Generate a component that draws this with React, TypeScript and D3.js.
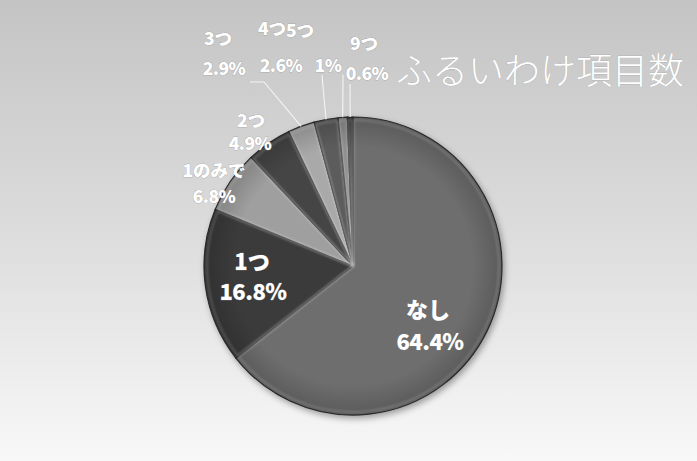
import React from "react";
import * as d3 from "d3";

const categories = ["なし", "1つ", "1のみで", "2つ", "3つ", "4つ", "5つ", "9つ"];
const values = [64.4, 16.8, 6.8, 4.9, 2.9, 2.6, 1, 0.6];
const percentLabels = ["64.4%", "16.8%", "6.8%", "4.9%", "2.9%", "2.6%", "1%", "0.6%"];
const sliceColors = ["#6e6e6e", "#3b3b3b", "#9f9f9f", "#454545", "#a9a9a9", "#5c5c5c", "#8d8d8d", "#3a3a3a"];
const title = "ふるいわけ項目数";

// layout: label anchor positions (name line, percent line), font size, leader line start
const labelLayout = [
  { nx: 428, ny: 318, px: 430, py: 350, fs: 22, leader: null },
  { nx: 252, ny: 270, px: 253, py: 300, fs: 22, leader: null },
  { nx: 214, ny: 177, px: 214, py: 203, fs: 17.5, leader: null },
  { nx: 251, ny: 127, px: 250, py: 150, fs: 17.5, leader: null },
  { nx: 218, ny: 45, px: 224, py: 75, fs: 17.5, leader: [[250, 82], [264, 82]] },
  { nx: 272, ny: 35, px: 281, py: 72, fs: 17.5, leader: [[322, 75]] },
  { nx: 300, ny: 37, px: 328, py: 72, fs: 17.5, leader: [[343, 75]] },
  { nx: 364, ny: 50, px: 367, py: 80, fs: 17.5, leader: [[350, 84]] },
];

const W = 697;
const H = 461;
const cx = 353;
const cy = 266;
const R = 149;

export default function App() {
  const data = categories.map((c, i) => ({ c, v: values[i], i }));
  const pie = d3.pie<any>().value((d) => d.v).sort(null).startAngle(0).endAngle(2 * Math.PI);
  const arcs = pie(data);
  const arc = d3.arc<any>().innerRadius(0).outerRadius(R);
  const innerArc = d3.arc<any>().innerRadius(0).outerRadius(R - 3).padAngle(0.012);

  const labelFont = "'Noto Sans CJK JP', 'Noto Sans', sans-serif";

  return (
    <svg
      width={W}
      height={H}
      viewBox={`0 0 ${W} ${H}`}
      style={{ position: "absolute", left: 0, top: 0 }}
    >
      <defs>
        <linearGradient id="bg" x1="0" y1="0" x2="0" y2="1">
          <stop offset="0" stopColor="#c4c4c4" />
          <stop offset="0.5" stopColor="#dcdcdc" />
          <stop offset="1" stopColor="#f8f8f8" />
        </linearGradient>
        <filter id="shadow" x="-20%" y="-20%" width="140%" height="140%">
          <feDropShadow dx="2" dy="3" stdDeviation="3" floodColor="#000" floodOpacity="0.35" />
        </filter>
        <filter id="soft" x="-10%" y="-10%" width="120%" height="120%">
          <feGaussianBlur stdDeviation="1.2" />
        </filter>
        <radialGradient id="shade" cx={cx} cy={cy} r={R} gradientUnits="userSpaceOnUse">
          <stop offset="0.8" stopColor="#000" stopOpacity="0" />
          <stop offset="1" stopColor="#000" stopOpacity="0.18" />
        </radialGradient>
      </defs>
      <rect x={0} y={0} width={W} height={H} fill="url(#bg)" />

      <g transform={`translate(${cx},${cy})`}>
        <g filter="url(#shadow)">
          {arcs.map((a, i) => (
            <path key={i} d={arc(a) as string} fill={sliceColors[i]} stroke="#2a2a2a" strokeWidth={1.2} />
          ))}
        </g>
        {arcs.map((a, i) => (
          <path
            key={"h" + i}
            d={innerArc(a) as string}
            fill="none"
            stroke="#ffffff"
            strokeOpacity={0.22}
            strokeWidth={2}
            filter="url(#soft)"
          />
        ))}
      </g>
      <circle cx={cx} cy={cy} r={R} fill="url(#shade)" pointerEvents="none" />

      {arcs.map((a, i) => {
        const L = labelLayout[i];
        if (!L.leader) return null;
        const mid = (a.startAngle + a.endAngle) / 2;
        const end: [number, number] = [cx + Math.sin(mid) * R, cy - Math.cos(mid) * R];
        const pts = [...(L.leader as number[][]), end];
        const line = d3.line();
        return (
          <path key={"l" + i} d={line(pts as [number, number][]) as string} fill="none" stroke="#f4f4f4" strokeWidth={1.1} />
        );
      })}

      {arcs.map((a, i) => {
        const L = labelLayout[i];
        return (
          <g
            key={"t" + i}
            fill="#ffffff"
            fontFamily={labelFont}
            fontWeight={900}
            fontSize={L.fs}
            textAnchor="middle"
            stroke="#8a8a8a"
            strokeWidth={0.4}
            style={{ paintOrder: "stroke" } as any}
          >
            <text x={L.nx} y={L.ny}>{categories[i]}</text>
            <text x={L.px} y={L.py} letterSpacing={-0.5}>{percentLabels[i]}</text>
          </g>
        );
      })}

      <text
        x={396}
        y={84}
        fill="#ffffff"
        fontFamily="'Noto Sans CJK JP', sans-serif"
        fontWeight={300}
        fontSize={36}
        stroke="#a0a0a0"
        strokeWidth={0.4}
        style={{ paintOrder: "stroke" } as any}
      >
        {title}
      </text>
    </svg>
  );
}
